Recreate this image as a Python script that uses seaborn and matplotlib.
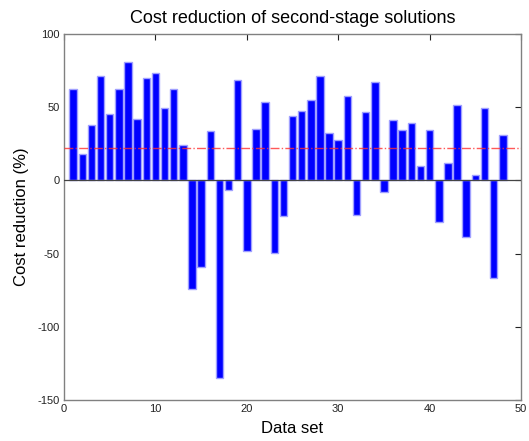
import matplotlib
matplotlib.use("Agg")
import matplotlib.pyplot as plt
import numpy as np
import pandas as pd
import seaborn as sns

# Cost reduction per data set (%)
data_sets = list(range(1, 49))
cost_reduction = [
    62.6, 17.8, 37.9, 71.0, 45.0, 62.6, 80.8, 41.6, 69.9, 73.0,
    49.3, 62.6, 24.4, -74.0, -58.9, 33.6, -135.0, -6.4, 68.7, -47.9,
    35.4, 53.7, -49.7, -24.4, 44.3, 47.7, 54.8, 71.0, 32.4, 27.7,
    57.3, -23.7, 46.8, 66.9, -8.2, 40.9, 34.7, 39.0, 10.0, 34.7,
    -28.5, 11.9, 51.6, -38.8, 3.9, 49.3, -66.8, 31.0,
]
mean_reduction = 22.4

x_ticks = [0, 10, 20, 30, 40, 50]
y_ticks = [-150, -100, -50, 0, 50, 100]

df = pd.DataFrame({"Data set": data_sets, "Cost reduction": cost_reduction})

sns.set_style("white")
plt.rcParams["font.family"] = ["Liberation Sans", "DejaVu Sans"]
plt.rcParams["axes.unicode_minus"] = False
plt.rcParams["text.color"] = "black"
plt.rcParams["axes.labelcolor"] = "black"

fig = plt.figure(figsize=(5.29, 4.41), dpi=100)
ax = fig.add_axes([0.121, 0.093, 0.864, 0.830])

sns.barplot(data=df, x="Data set", y="Cost reduction", native_scale=True,
            width=0.82, color="#0000ff", saturation=1.0,
            edgecolor="#a0a0ff", linewidth=1.0, ax=ax, errorbar=None)

ax.axhline(0, color="#444444", linewidth=0.9, zorder=3)
ax.axhline(mean_reduction, color="#ff3030", linestyle="-.", linewidth=1.0,
           alpha=0.8, zorder=4)

ax.set_xlim(0, 50)
ax.set_ylim(-150, 100)
ax.set_xticks(x_ticks)
ax.set_yticks(y_ticks)
ax.tick_params(direction="in", length=4, width=0.8, top=True, right=True,
               labelsize=8, colors="#222222", labelcolor="#222222", pad=3)

for s in ax.spines.values():
    s.set_visible(True)
    s.set_color("#808080")
    s.set_linewidth(1.0)

ax.set_title("Cost reduction of second-stage solutions", fontsize=13, pad=8,
             color="black")
ax.set_xlabel("Data set", fontsize=12, labelpad=5)
ax.set_ylabel("Cost reduction (%)", fontsize=12, labelpad=6)

fig.savefig("out.png", dpi=100)
